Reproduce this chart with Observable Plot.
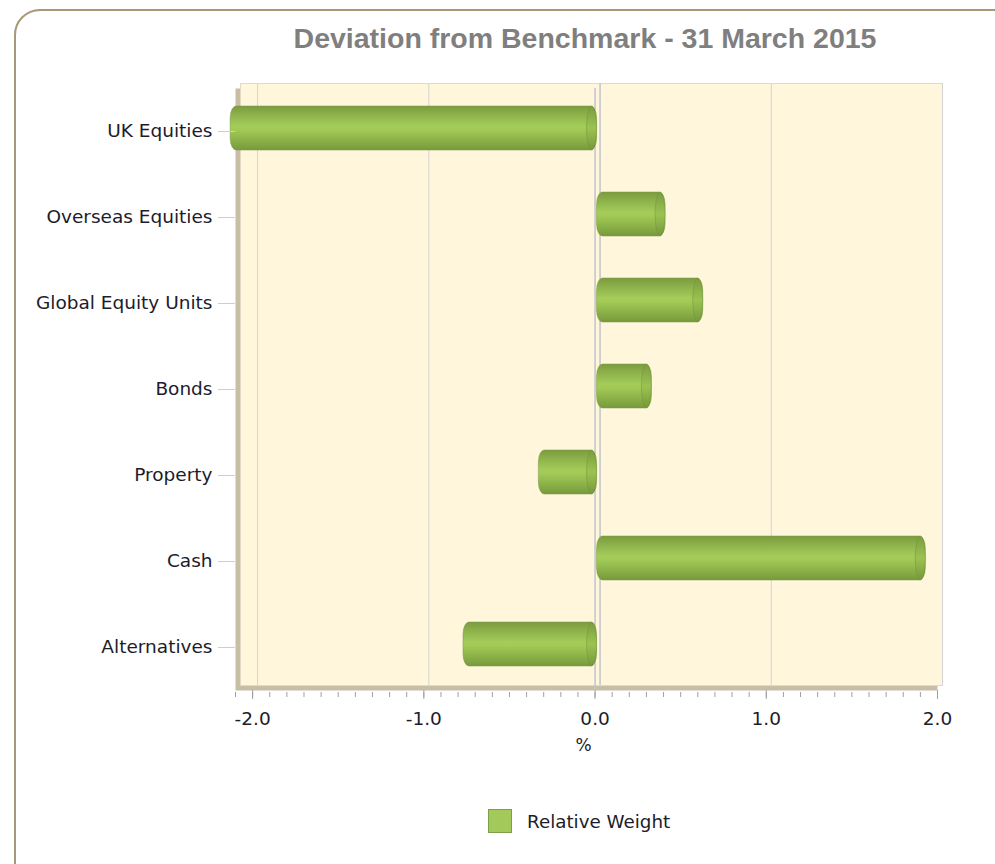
<!DOCTYPE html>
<html>
<head>
<meta charset="utf-8">
<script src="https://cdn.jsdelivr.net/npm/d3@7"></script>
<script src="https://cdn.jsdelivr.net/npm/@observablehq/plot@0.6"></script>
<style>
  html, body { margin: 0; padding: 0; background: #ffffff; overflow: hidden; }
  #wrap { position: relative; width: 995px; height: 864px; overflow: hidden; font-family: "DejaVu Sans", sans-serif; }
  #border { position: absolute; left: 14px; top: 9px; width: 1010px; height: 880px; border: 2px solid #A69878; border-radius: 26px; box-sizing: border-box; }
  #title { position: absolute; left: 0; top: 21px; width: 1170px; text-align: center; font: bold 28.5px/34px "Liberation Sans", Arial, sans-serif; color: #7f7f7f; white-space: nowrap; }
  #chart { position: absolute; left: 0; top: 60px; }
  #legend { position: absolute; left: 488px; top: 809px; display: flex; align-items: center; font: 18.3px "DejaVu Sans", sans-serif; color: #1c1c2a; }
  #legend .sw { width: 22px; height: 22px; background: #A2C95A; border: 1px solid #7E9E48; margin-right: 15px; }
</style>
</head>
<body>
<div id="wrap">
  <div id="border"></div>
  <div id="title"></div>
  <div id="chart"></div>
  <div id="legend"><div class="sw"></div><span id="legendText"></span></div>
</div>
<script>
const titleText = "Deviation from Benchmark - 31 March 2015";
const categories = ["UK Equities", "Overseas Equities", "Global Equity Units", "Bonds", "Property", "Cash", "Alternatives"];
const values = [-2.14, 0.40, 0.62, 0.32, -0.34, 1.92, -0.78];
const seriesName = "Relative Weight";
const xLabel = "%";
const xDomain = [-2.1, 2.0];
const majorTicks = [-2, -1, 0, 1, 2];
const minorTicks = [-2.1, -2.0, -1.9, -1.8, -1.7, -1.6, -1.5, -1.4, -1.3, -1.2, -1.1, -1.0, -0.9, -0.8, -0.7, -0.6, -0.5, -0.4, -0.3, -0.2, -0.1, 0.0,
                    0.1, 0.2, 0.3, 0.4, 0.5, 0.6, 0.7, 0.8, 0.9, 1.0, 1.1, 1.2, 1.3, 1.4, 1.5, 1.6, 1.7, 1.8, 1.9, 2.0];

document.getElementById("title").textContent = titleText;
document.getElementById("legendText").textContent = seriesName;

const data = categories.map((c, i) => ({category: c, value: values[i]}));

const chart = Plot.plot({
  width: 995,
  height: 730,
  marginLeft: 235,
  marginRight: 58,
  marginTop: 28,
  marginBottom: 100,
  style: {fontFamily: "DejaVu Sans, sans-serif", fontSize: "18.5px", background: "transparent", color: "#1c1c2a"},
  x: {domain: xDomain},
  y: {domain: categories, padding: 0},
  marks: [
    Plot.frame({fill: "#C8BEA6"}),
    Plot.frame({fill: "#FFF6DC", stroke: "#E2DAC6", dx: 5, dy: -5}),
    Plot.ruleX(majorTicks.filter(v => v !== 0), {stroke: "#D4D4D4", dx: 5, dy: -5}),
    Plot.ruleX([0], {stroke: "#C0C4CC", strokeWidth: 1.5, dx: 5, dy: -5}),
    Plot.ruleX([0], {stroke: "#C0C4CC", strokeWidth: 1.5}),
    Plot.barX(data, {
      x: "value", y: "category", dx: 2, dy: -3,
      insetTop: 21, insetBottom: 21,
      fill: "url(#barGrad)", stroke: "#7A9840", strokeOpacity: 0.5,
      rx: 6, ry: 12
    }),
    Plot.barX(data, {
      x1: d => Math.max(0, d.value), x2: d => Math.max(0, d.value), y: "category", dx: 2, dy: -3,
      insetTop: 21, insetBottom: 21, insetLeft: -10, insetRight: 0,
      fill: "url(#capGrad)", stroke: "#6F8F38", strokeOpacity: 0.45,
      rx: 5, ry: 22
    }),
    Plot.axisY({tickSize: 17, tickPadding: 6, stroke: "#C8CFDA", fill: "#1c1c2a", label: null}),
    Plot.axisX(minorTicks, {tickSize: 5, dy: 2, stroke: "#A0A0A0", tickFormat: () => "", label: null}),
    Plot.axisX(majorTicks, {tickSize: 9, tickPadding: 12, stroke: "#A0A0A0", fill: "#1c1c2a", tickFormat: d => d.toFixed(1), label: null}),
    Plot.text([xLabel], {frameAnchor: "bottom", dy: 60, dx: -3, fontSize: 17, fill: "#1c1c2a"})
  ]
});

d3.select(chart).insert("defs", ":first-child").html(`
  <linearGradient id="barGrad" x1="0" y1="0" x2="0" y2="1">
    <stop offset="0" stop-color="#7B9C40"/>
    <stop offset="0.45" stop-color="#A3CC58"/>
    <stop offset="0.55" stop-color="#A0C955"/>
    <stop offset="1" stop-color="#779A3C"/>
  </linearGradient>
  <linearGradient id="capGrad" x1="0" y1="0" x2="0" y2="1">
    <stop offset="0" stop-color="#7A9C3F"/>
    <stop offset="0.5" stop-color="#9BC352"/>
    <stop offset="1" stop-color="#76983B"/>
  </linearGradient>`);

document.getElementById("chart").appendChild(chart);
</script>
</body>
</html>
